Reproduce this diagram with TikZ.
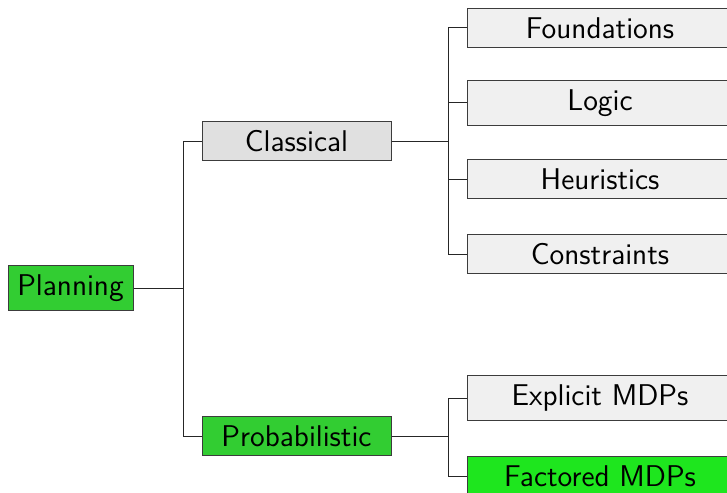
\documentclass[tikz,border=0pt]{standalone}
\usepackage{xcolor}
\usepackage{tikz}
\usetikzlibrary{positioning}
\definecolor{plangreen}{RGB}{50,205,50}
\definecolor{factgreen}{RGB}{30,230,30}
\definecolor{midgray}{RGB}{224,224,224}
\definecolor{leafgray}{RGB}{240,240,240}
\definecolor{boxline}{RGB}{60,60,60}
\tikzset{
    topic/.style={draw=boxline,line width=0.5pt,font=\sffamily\fontsize{15}{18}\selectfont,
        inner xsep=2pt,inner ysep=4.5pt},
    rootbox/.style={topic,fill=plangreen,minimum width=62.5pt},
    midbox/.style={topic,fill=midgray,minimum width=94.5pt},
    leafbox/.style={topic,fill=leafgray,minimum width=133pt},
    branch/.style={draw=black!85,line width=0.5pt}
}
\begin{document}
\begin{tikzpicture}[x=0.5pt,y=-0.5pt]
        \useasboundingbox (0,0) rectangle (727,492);
        % root and first level
        \node[rootbox] (plan) at (70.5,288) {Planning};
        \node[midbox] (classic) at (296.5,141) {Classical};
        \node[midbox,fill=plangreen] (prob) at (296.5,436) {Probabilistic};
        % leaves
        \node[leafbox] (found) at (600,28) {Foundations};
        \node[leafbox] (logic) at (600,103) {Logic};
        \node[leafbox] (heur) at (600,179) {Heuristics};
        \node[leafbox] (constr) at (600,254) {Constraints};
        \node[leafbox] (expl) at (600,398) {Explicit MDPs};
        \node[leafbox,fill=factgreen] (fact) at (600,476) {Factored MDPs};
        % edges
        \foreach \kid in {classic,prob}
            \draw[branch] (plan.east) -- ++(50,0) |- (\kid.west);
        \foreach \kid in {found,logic,heur,constr}
            \draw[branch] (classic.east) -- ++(57,0) |- (\kid.west);
        \foreach \kid in {expl,fact}
            \draw[branch] (prob.east) -- ++(57,0) |- (\kid.west);
    \end{tikzpicture}
\end{document}
